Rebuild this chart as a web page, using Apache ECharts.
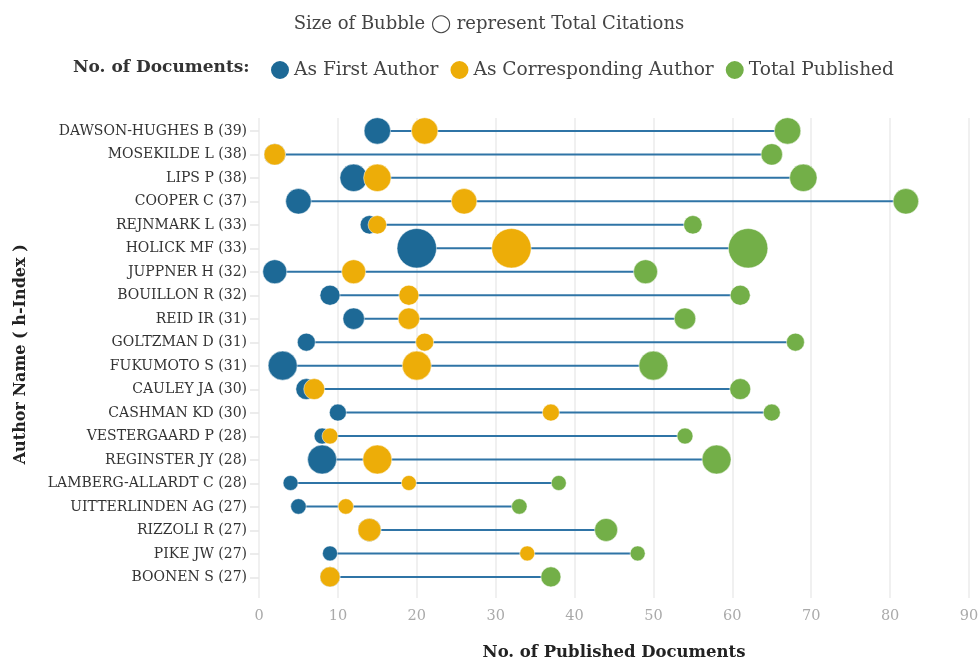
<!DOCTYPE html>
<html><head><meta charset="utf-8">
<script src="https://cdn.jsdelivr.net/npm/echarts@6/dist/echarts.min.js"></script>
<style>html,body{margin:0;padding:0;background:#fff}#c{width:978px;height:661px}</style>
</head><body><div id="c"></div>
<script>
const authors = ["DAWSON-HUGHES B (39)","MOSEKILDE L (38)","LIPS P (38)","COOPER C (37)","REJNMARK L (33)","HOLICK MF (33)","JUPPNER H (32)","BOUILLON R (32)","REID IR (31)","GOLTZMAN D (31)","FUKUMOTO S (31)","CAULEY JA (30)","CASHMAN KD (30)","VESTERGAARD P (28)","REGINSTER JY (28)","LAMBERG-ALLARDT C (28)","UITTERLINDEN AG (27)","RIZZOLI R (27)","PIKE JW (27)","BOONEN S (27)"];
const firstAuthor = [15,2,12,5,14,20,2,9,12,6,3,6,10,8,8,4,5,14,9,9];
const corrAuthor  = [21,2,15,26,15,32,12,19,19,21,20,7,37,9,15,19,11,14,34,9];
const totalPub    = [67,65,69,82,55,62,49,61,54,68,50,61,65,54,58,38,33,44,48,37];
const citations   = [1430,940,1540,1330,700,3180,1180,820,940,660,1720,900,590,520,1720,460,490,1080,460,820];
const xTicks = [0,10,20,30,40,50,60,70,80,90];

const FONT = "DejaVu Serif";
const colors = {first:"#1D6996", corr:"#EDAD08", total:"#73AF48", line:"#2f74a6"};

function pts(arr){ return arr.map((v,i)=>[v,i,citations[i]]); }
const sizeFn = v => 0.7*Math.sqrt(v[2]);

const chart = echarts.init(document.getElementById('c'));
chart.setOption({
  animation:false,
  textStyle:{fontFamily:FONT},
  title:{text:"Size of Bubble \u25EF represent Total Citations", left:'center', top:10,
    textStyle:{fontFamily:FONT, fontSize:18, fontWeight:'normal', color:'#444'}},
  legend:{left:264, top:54, itemWidth:20, itemHeight:20, itemGap:10, icon:'circle',
    textStyle:{fontFamily:FONT, fontSize:18.6, color:'#444', padding:[0,0,0,-1]},
    data:["As First Author","As Corresponding Author","Total Published"]},
  graphic:[{type:'text', left:73, top:59, style:{text:"No. of Documents:", font:"bold 17px '"+FONT+"'", fill:'#333'}}],
  grid:[
    {left:259, right:9, top:118, bottom:63, outerBoundsMode:'none', containLabel:false},
    {left:259, right:9, top:119.3, height:470, outerBoundsMode:'none', containLabel:false}
  ],
  xAxis:[
    {gridIndex:0, type:'value', min:xTicks[0], max:xTicks[xTicks.length-1], interval:10,
     name:"No. of Published Documents", nameLocation:'middle', nameGap:46,
     nameTextStyle:{fontFamily:FONT, fontSize:16.5, fontWeight:'bold', color:'#222'},
     axisLine:{show:false}, axisTick:{show:false},
     axisLabel:{color:'#aaa', fontSize:14.5, margin:11, fontFamily:FONT},
     splitLine:{show:true, lineStyle:{color:'#ebebeb', width:1.5}}},
    {gridIndex:1, type:'value', min:0, max:90, show:false}
  ],
  yAxis:[
    {gridIndex:0, type:'value', inverse:true, min:-0.55, max:19.9, show:false},
    {gridIndex:1, type:'category', inverse:true, data:authors,
     name:"Author Name ( h-Index )", nameLocation:'middle', nameGap:230,
     nameTextStyle:{fontFamily:FONT, fontSize:16, fontWeight:'bold', color:'#222'},
     axisLine:{show:false},
     axisTick:{show:true, alignWithLabel:true, length:9, lineStyle:{color:'#e6e6e6', width:1.5}},
     axisLabel:{color:'#333', fontSize:14, margin:12, fontFamily:FONT},
     splitLine:{show:false}}
  ],
  series:[
    {type:'custom', xAxisIndex:0, yAxisIndex:0, silent:true, z:1,
     data: authors.map((a,i)=>[Math.min(firstAuthor[i],corrAuthor[i]), totalPub[i], i]),
     renderItem:(params, api)=>{
       const p1 = api.coord([api.value(0), api.value(2)]);
       const p2 = api.coord([api.value(1), api.value(2)]);
       return {type:'line', shape:{x1:p1[0], y1:p1[1], x2:p2[0], y2:p2[1]},
         style:{stroke:colors.line, lineWidth:2}};
     }},
    {name:"As First Author", type:'scatter', xAxisIndex:0, yAxisIndex:0, z:2,
     data:pts(firstAuthor), symbolSize:sizeFn,
     itemStyle:{color:colors.first, opacity:1, borderColor:'#fff', borderWidth:0.5}},
    {name:"As Corresponding Author", type:'scatter', xAxisIndex:0, yAxisIndex:0, z:3,
     data:pts(corrAuthor), symbolSize:sizeFn,
     itemStyle:{color:colors.corr, opacity:1, borderColor:'#fff', borderWidth:0.5}},
    {name:"Total Published", type:'scatter', xAxisIndex:0, yAxisIndex:0, z:4,
     data:pts(totalPub), symbolSize:sizeFn,
     itemStyle:{color:colors.total, opacity:1, borderColor:'#fff', borderWidth:0.5}}
  ]
});
</script></body></html>
